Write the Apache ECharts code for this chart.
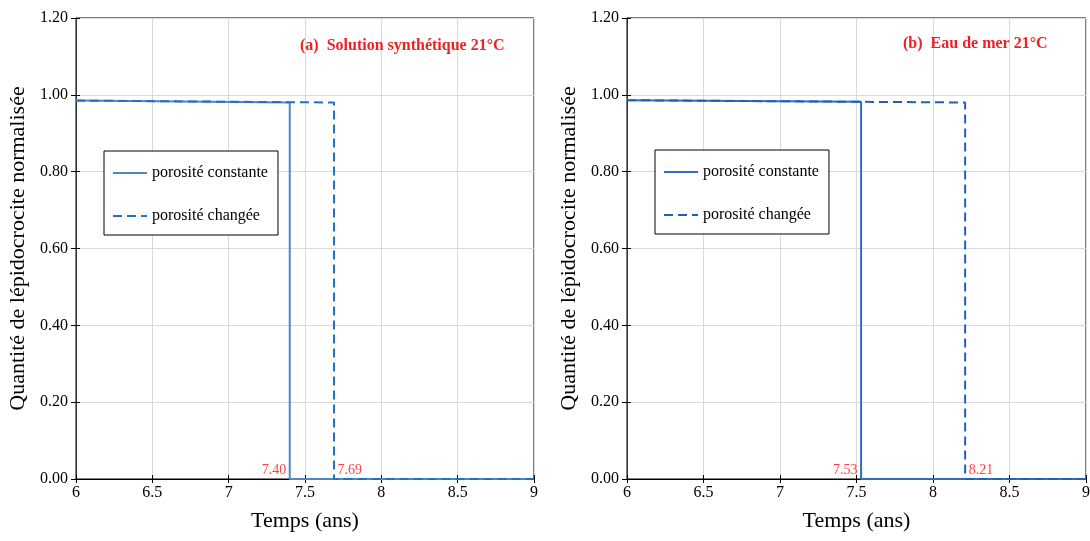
<!DOCTYPE html>
<html><head><meta charset="utf-8">
<script src="https://cdn.jsdelivr.net/npm/echarts@6/dist/echarts.min.js"></script>
<style>html,body{margin:0;padding:0;background:#fff}#c{width:1090px;height:541px}</style>
</head><body><div id="c"></div>
<script>
const xMin = 6, xMax = 9, xInterval = 0.5;
const yMin = 0, yMax = 1.2, yInterval = 0.2;
const seriesNames = ['porosité constante', 'porosité changée'];
const panelTitles = ['(a)  Solution synthétique 21°C', '(b)  Eau de mer 21°C'];
const yAxisName = 'Quantité de lépidocrocite normalisée';
const xAxisName = 'Temps (ans)';
const aConstant = [[6, 0.985], [7.40, 0.980], [7.40, 0], [9, 0]];
const aChanged  = [[6, 0.985], [7.69, 0.980], [7.69, 0], [9, 0]];
const bConstant = [[6, 0.986], [7.53, 0.982], [7.53, 0], [9, 0]];
const bChanged  = [[6, 0.986], [8.21, 0.980], [8.21, 0], [9, 0]];
const aDrops = [7.40, 7.69];
const bDrops = [7.53, 8.21];

const FONT = 'Liberation Serif';
const colors = [['#4f86c6', '#1f72c6'], ['#2f6cc4', '#1f5fc0']];
const grids = [
  {left: 76, right: 556, top: 18, bottom: 62},
  {left: 627, right: 4, top: 18, bottom: 62}
];

const xAxes = [], yAxes = [], series = [];
grids.forEach((g, i) => {
  xAxes.push({
    type: 'value', gridIndex: i, min: xMin, max: xMax, interval: xInterval,
    name: xAxisName, nameLocation: 'middle', nameGap: 31,
    nameTextStyle: {fontFamily: FONT, fontSize: 22, color: '#000'},
    axisLine: {lineStyle: {color: '#000', width: 1}},
    axisTick: {show: true, length: 4, lineStyle: {color: '#000'}},
    axisLabel: {fontFamily: FONT, fontSize: 16, color: '#000', margin: 6},
    splitLine: {show: true, lineStyle: {color: '#d9d9d9', width: 1}}
  });
  xAxes.push({
    type: 'value', gridIndex: i, min: xMin, max: xMax, interval: xInterval, position: 'bottom',
    axisLine: {show: false}, axisLabel: {show: false}, splitLine: {show: false},
    axisTick: {show: true, inside: true, length: 4, lineStyle: {color: '#000'}}
  });
  yAxes.push({
    type: 'value', gridIndex: i, min: yMin, max: yMax, interval: yInterval,
    name: yAxisName, nameLocation: 'middle', nameGap: 47,
    nameTextStyle: {fontFamily: FONT, fontSize: 22, color: '#000'},
    axisLine: {show: true, lineStyle: {color: '#333', width: 1}},
    axisTick: {show: true, length: 5, lineStyle: {color: '#000'}},
    axisLabel: {fontFamily: FONT, fontSize: 16, color: '#000', margin: 8,
      formatter: v => v.toFixed(2)},
    splitLine: {show: true, lineStyle: {color: '#d9d9d9', width: 1}}
  });
  yAxes.push({
    type: 'value', gridIndex: i, min: yMin, max: yMax, interval: yInterval, position: 'left',
    axisLine: {show: false}, axisLabel: {show: false}, splitLine: {show: false},
    axisTick: {show: true, inside: true, length: 4, lineStyle: {color: '#000'}}
  });
});

const panelData = [[aConstant, aChanged], [bConstant, bChanged]];
const drops = [aDrops, bDrops];
panelData.forEach((pair, i) => {
  pair.forEach((d, k) => {
    series.push({
      type: 'line', name: seriesNames[k], xAxisIndex: 2 * i, yAxisIndex: 2 * i,
      data: d, symbol: 'none', animation: false,
      lineStyle: {color: colors[i][k], width: 2, type: k === 0 ? 'solid' : [9, 5]},
      itemStyle: {color: colors[i][k]}, z: 3
    });
  });
  series.push({
    type: 'scatter', xAxisIndex: 2 * i, yAxisIndex: 2 * i, symbolSize: 1,
    itemStyle: {color: 'rgba(0,0,0,0)'}, silent: true, animation: false, z: 5,
    data: drops[i].map((x, k) => ({
      value: [x, 0],
      label: {show: true, position: k === 0 ? 'left' : 'right', distance: 3, offset: [0, -9],
        formatter: x.toFixed(2), fontFamily: FONT, fontSize: 14, color: '#ff1010'}
    }))
  });
});

const legendComps = [0, 1].map(i => ({
  left: i === 0 ? 104 : 655, top: i === 0 ? 151 : 150, orient: 'vertical',
  itemWidth: 34, itemHeight: 14, itemGap: 27,
  padding: [14, 10, 11, 8], borderColor: '#000', borderWidth: 1, backgroundColor: '#fff',
  textStyle: {fontFamily: FONT, fontSize: 16, color: '#000', padding: [0, 0, 0, 0]},
  data: seriesNames.map((n, k) => ({
    name: n,
    itemStyle: {color: colors[i][k], opacity: 0},
    lineStyle: {color: colors[i][k], width: 2, type: k === 0 ? 'solid' : [9, 5]}
  }))
}));

const titleComps = [
  {text: panelTitles[0], left: 300, top: 38},
  {text: panelTitles[1], left: 903, top: 36}
].map(t => Object.assign(t, {padding: 0,
  textStyle: {fontFamily: FONT, fontSize: 16, fontWeight: 'bold', color: '#ee2222'}}));

const chart = echarts.init(document.getElementById('c'));
chart.setOption({
  animation: false,
  backgroundColor: '#fff',
  title: titleComps,
  grid: grids.map(g => Object.assign({}, g, {show: true, borderColor: '#000', borderWidth: 1,
    backgroundColor: 'transparent', containLabel: false, outerBoundsMode: 'none'})),
  xAxis: xAxes, yAxis: yAxes,
  legend: legendComps,
  series: series
});
</script></body></html>
